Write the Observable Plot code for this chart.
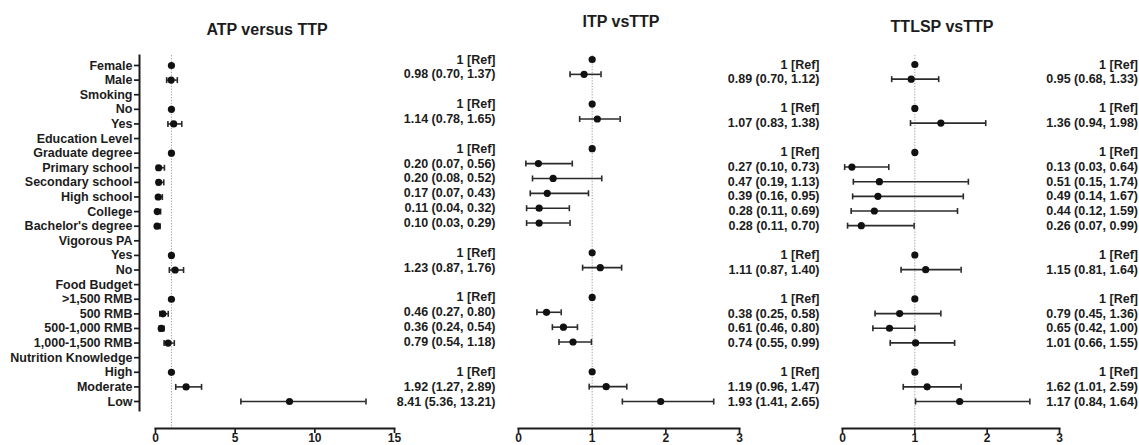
<!DOCTYPE html>
<html>
<head>
<meta charset="utf-8">
<script src="https://cdn.jsdelivr.net/npm/d3@7"></script>
<script src="https://cdn.jsdelivr.net/npm/@observablehq/plot@0.6"></script>
<style>
  html, body { margin: 0; padding: 0; background: #fff; }
  #chart { position: relative; width: 1139px; height: 445px; overflow: hidden; background: #fff; }
  #chart svg { position: absolute; left: 0; top: 0; }
</style>
</head>
<body>
<div id="chart"></div>
<script>
// Row labels (y axis tick labels)
const rows = ["Female","Male","Smoking","No","Yes","Education Level","Graduate degree","Primary school","Secondary school","High school","College","Bachelor's degree","Vigorous PA","Yes","No","Food Budget",">1,500 RMB","500 RMB","500-1,000 RMB","1,000-1,500 RMB","Nutrition Knowledge","High","Moderate","Low"];

// Panel titles
const titles = ["ATP versus TTP", "ITP vsTTP", "TTLSP vsTTP"];

// ATP versus TTP
const atpOR = [1,0.98,null,1,1.14,null,1,0.20,0.20,0.17,0.11,0.10,null,1,1.23,null,1,0.46,0.36,0.79,null,1,1.92,8.41];
const atpLo = [null,0.70,null,null,0.78,null,null,0.07,0.08,0.07,0.04,0.03,null,null,0.87,null,null,0.27,0.24,0.54,null,null,1.27,5.36];
const atpHi = [null,1.37,null,null,1.65,null,null,0.56,0.52,0.43,0.32,0.29,null,null,1.76,null,null,0.80,0.54,1.18,null,null,2.89,13.21];
const atpText = ["1 [Ref]","0.98 (0.70, 1.37)","","1 [Ref]","1.14 (0.78, 1.65)","","1 [Ref]","0.20 (0.07, 0.56)","0.20 (0.08, 0.52)","0.17 (0.07, 0.43)","0.11 (0.04, 0.32)","0.10 (0.03, 0.29)","","1 [Ref]","1.23 (0.87, 1.76)","","1 [Ref]","0.46 (0.27, 0.80)","0.36 (0.24, 0.54)","0.79 (0.54, 1.18)","","1 [Ref]","1.92 (1.27, 2.89)","8.41 (5.36, 13.21)"];

// ITP vs TTP
const itpOR = [1,0.89,null,1,1.07,null,1,0.27,0.47,0.39,0.28,0.28,null,1,1.11,null,1,0.38,0.61,0.74,null,1,1.19,1.93];
const itpLo = [null,0.70,null,null,0.83,null,null,0.10,0.19,0.16,0.11,0.11,null,null,0.87,null,null,0.25,0.46,0.55,null,null,0.96,1.41];
const itpHi = [null,1.12,null,null,1.38,null,null,0.73,1.13,0.95,0.69,0.70,null,null,1.40,null,null,0.58,0.80,0.99,null,null,1.47,2.65];
const itpText = ["1 [Ref]","0.89 (0.70, 1.12)","","1 [Ref]","1.07 (0.83, 1.38)","","1 [Ref]","0.27 (0.10, 0.73)","0.47 (0.19, 1.13)","0.39 (0.16, 0.95)","0.28 (0.11, 0.69)","0.28 (0.11, 0.70)","","1 [Ref]","1.11 (0.87, 1.40)","","1 [Ref]","0.38 (0.25, 0.58)","0.61 (0.46, 0.80)","0.74 (0.55, 0.99)","","1 [Ref]","1.19 (0.96, 1.47)","1.93 (1.41, 2.65)"];

// TTLSP vs TTP (points as drawn)
const ttOR = [1,0.95,null,1,1.36,null,1,0.13,0.51,0.49,0.44,0.26,null,1,1.15,null,1,0.79,0.65,1.01,null,1,1.17,1.62];
const ttLo = [null,0.68,null,null,0.94,null,null,0.03,0.15,0.14,0.12,0.07,null,null,0.81,null,null,0.45,0.42,0.66,null,null,0.84,1.01];
const ttHi = [null,1.33,null,null,1.98,null,null,0.64,1.74,1.67,1.59,0.99,null,null,1.64,null,null,1.36,1.00,1.55,null,null,1.64,2.59];
const ttText = ["1 [Ref]","0.95 (0.68, 1.33)","","1 [Ref]","1.36 (0.94, 1.98)","","1 [Ref]","0.13 (0.03, 0.64)","0.51 (0.15, 1.74)","0.49 (0.14, 1.67)","0.44 (0.12, 1.59)","0.26 (0.07, 0.99)","","1 [Ref]","1.15 (0.81, 1.64)","","1 [Ref]","0.79 (0.45, 1.36)","0.65 (0.42, 1.00)","1.01 (0.66, 1.55)","","1 [Ref]","1.62 (1.01, 2.59)","1.17 (0.84, 1.64)"];

// Axis ticks
const ticksATP = [0, 5, 10, 15];
const ticksSmall = [0, 1, 2, 3];

const W = 1139, H = 445;
const FONT = "'Liberation Sans', Arial, Helvetica, sans-serif";
const INK = "#1c1c1c";

// vertical bar symbol for error-bar caps
const capSymbol = {
  draw(context, size) {
    const r = Math.sqrt(size / Math.PI);
    context.moveTo(0, -r);
    context.lineTo(0, r);
  }
};

function table(or, lo, hi, text) {
  return rows.map((label, i) => ({i, label, or: or[i], lo: lo[i], hi: hi[i], text: text[i]}));
}

function panel(cfg) {
  const pts = cfg.data.filter(d => d.or != null);
  const ci = cfg.data.filter(d => d.lo != null);
  const marks = [
    Plot.ruleX([1], {stroke: "#a0a0a0", strokeWidth: 1, strokeDasharray: "1.3,1.5"}),
    Plot.frame({anchor: "bottom", insetLeft: cfg.xInset || 0, stroke: INK, strokeWidth: 1.9}),
    Plot.axisX({ticks: cfg.ticks, tickSize: 5, tickPadding: 0, tickFormat: d => String(d), label: null,
      stroke: INK, strokeWidth: 1.7, fontSize: 12}),
    Plot.ruleY(ci, {y: "i", x1: "lo", x2: "hi", stroke: "#2b2b2b", strokeWidth: 1.6}),
    Plot.dot(ci, {y: "i", x: "lo", r: 3, symbol: capSymbol, fill: "none", stroke: "#2b2b2b", strokeWidth: 1.6}),
    Plot.dot(ci, {y: "i", x: "hi", r: 3, symbol: capSymbol, fill: "none", stroke: "#2b2b2b", strokeWidth: 1.6}),
    Plot.dot(pts, {y: "i", x: "or", r: 3.6, fill: "#111", stroke: "none"}),
    Plot.text([cfg.title], {text: d => d, frameAnchor: "top", dx: cfg.titleDx, dy: cfg.titleDy,
      lineAnchor: "middle", fontSize: 16, fontWeight: "bold"})
  ];
  if (cfg.yAxis) {
    marks.push(
      Plot.frame({anchor: "left", insetBottom: 18, stroke: INK, strokeWidth: 2}),
      Plot.axisY({ticks: d3.range(rows.length), tickFormat: i => rows[i], tickSize: 5, tickPadding: 2, label: null,
        stroke: INK, strokeWidth: 1.7, fontSize: 12.5})
    );
  }
  if (cfg.leftText) {
    marks.push(Plot.text(cfg.leftText.filter(d => d.text), {y: "i", text: "text", frameAnchor: "left",
      dx: cfg.leftTextDx, textAnchor: "end", fontSize: 12.5}));
  }
  if (cfg.rightText) {
    marks.push(Plot.text(cfg.rightText.filter(d => d.text), {y: "i", text: "text", frameAnchor: "right",
      dx: cfg.rightTextDx, textAnchor: "end", fontSize: 12.5}));
  }
  return Plot.plot({
    width: W, height: H,
    marginLeft: cfg.marginLeft, marginRight: cfg.marginRight,
    marginTop: 55, marginBottom: 17,
    style: {fontFamily: FONT, fontSize: "12.5px", fontWeight: "bold", color: INK, background: "transparent", overflow: "visible"},
    x: {domain: cfg.xDomain, insetLeft: cfg.xInset || 0, label: null},
    y: {type: "linear", domain: [0, rows.length - 1], reverse: true, insetTop: cfg.yInsetTop, insetBottom: 27,
        label: null, axis: cfg.yAxis ? undefined : null},
    marks
  });
}

const atp = table(atpOR, atpLo, atpHi, atpText);
const itp = table(itpOR, itpLo, itpHi, itpText);
const tt = table(ttOR, ttLo, ttHi, ttText);

const chart = document.getElementById("chart");

chart.appendChild(panel({
  data: atp, xDomain: [0, 15], ticks: ticksATP, xInset: 16,
  marginLeft: 139, marginRight: W - 394, yInsetTop: 10, yAxis: true,
  title: titles[0], titleDx: 0, titleDy: -26
}));

chart.appendChild(panel({
  data: itp, xDomain: [0, 3], ticks: ticksSmall,
  marginLeft: 518, marginRight: W - 739, yInsetTop: 4,
  title: titles[1], titleDx: -8, titleDy: -34,
  leftText: atp, leftTextDx: -23
}));

chart.appendChild(panel({
  data: tt, xDomain: [0, 3], ticks: ticksSmall,
  marginLeft: 842, marginRight: W - 1059, yInsetTop: 9,
  title: titles[2], titleDx: -9, titleDy: -29,
  leftText: itp, leftTextDx: -23,
  rightText: tt, rightTextDx: 78.5
}));
</script>
</body>
</html>
